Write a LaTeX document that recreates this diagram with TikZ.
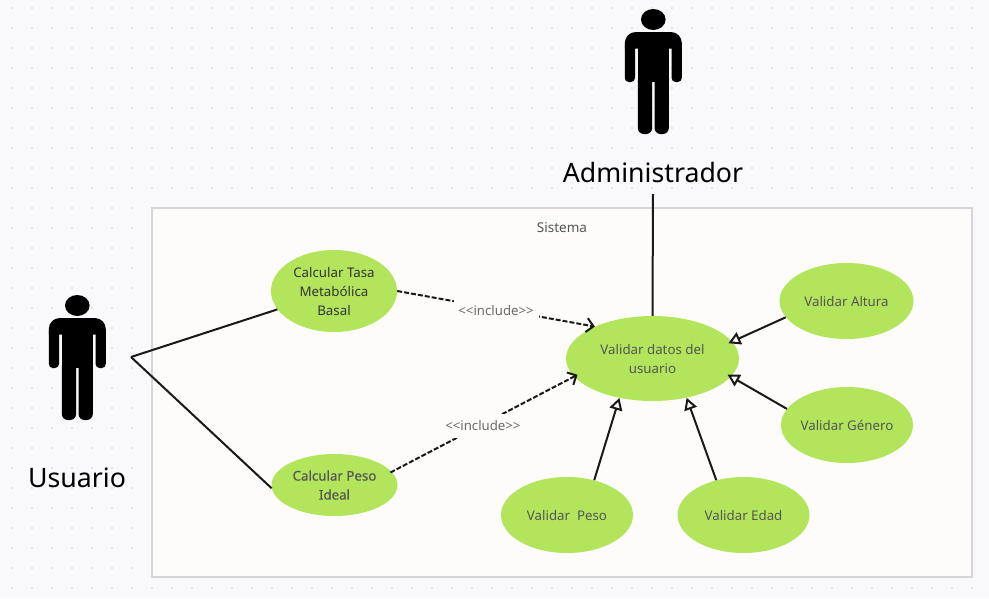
\documentclass[tikz,border=0pt]{standalone}
\usepackage{fontspec}
\setmainfont{Noto Sans}
\usetikzlibrary{arrows.meta,shapes.geometric}
\definecolor{pagebg}{HTML}{F9F9FB}
\definecolor{griddot}{HTML}{E4E4E8}
\definecolor{sysbg}{HTML}{FDFCFB}
\definecolor{sysline}{HTML}{D6D6D6}
\definecolor{usegreen}{HTML}{B2E55B}
\definecolor{labelgray}{HTML}{555555}
\definecolor{inclgray}{HTML}{6A6A6A}
\tikzset{
    usecase/.style={ellipse,fill=usegreen,inner sep=0pt,align=center,text=labelgray,font=\fontsize{13.3}{19}\selectfont,minimum width=132pt,minimum height=76pt,
        execute at begin node={\rule{0pt}{13.5pt}},execute at end node={\rule[-3.5pt]{0pt}{0pt}}},
    actorname/.style={text=black,font=\fontsize{26.7}{32}\selectfont,inner sep=0pt},
    assoc/.style={draw=black!90,line width=2pt},
    incl/.style={assoc,dashed,dash pattern=on 5pt off 2pt,-{Straight Barb[length=7pt,width=14pt,line width=2pt]}},
    generalize/.style={assoc,-{Triangle[open,fill=white,length=12pt,width=13pt,line width=2pt]}},
    inclabel/.style={fill=sysbg,text=inclgray,font=\fontsize{13.2}{16}\selectfont,inner sep=0pt,minimum width=85pt,minimum height=24pt,yshift=-1.5pt},
    actor/.pic={
        \fill (0,0) ellipse [x radius=12.3,y radius=10.5];
        \fill (-28.5,29) -- (-28.5,23.5) arc [start angle=180,end angle=270,radius=11] -- (17.5,12.5) arc [start angle=270,end angle=360,radius=11] -- (28.5,29) -- cycle;
        \fill (-15.5,25) rectangle (15.5,62.5);
        \foreach \s in {-1,1} {
            \begin{scope}[xscale=\s]
                \fill (18.3,25) [rounded corners=4] -- (18.3,62.5) -- (28.5,62.5) [sharp corners] -- (28.5,25) -- cycle;
                \fill (1.2,60) [rounded corners=6] -- (1.2,114.5) -- (15.5,114.5) [sharp corners] -- (15.5,60) -- cycle;
            \end{scope}
        }
    }
}
\begin{document}
\begin{tikzpicture}[x=1pt,y=-1pt]
    \useasboundingbox (0,0) rectangle (989,598);
    \fill [pagebg] (0,0) rectangle (989,598);
    \foreach \x in {0,...,48} {
        \foreach \y in {0,...,29} {
            \fill [griddot] (12+20*\x,8+20*\y) circle (1.4);
        }
    }
    \node [draw=sysline,fill=sysbg,line width=2pt,minimum width=820pt,minimum height=369pt,inner sep=0pt] (sistema) at (562,392.5) {};
    \node [text=labelgray,font=\fontsize{13.5}{16}\selectfont,inner sep=0pt] (sistemaname) at (562,228) {Sistema};

    \pic at (77.3,305.5) {actor};
    \pic at (653.3,19.5) {actor};
    \node [actorname] (usuario) at (77,478) {Usuario};
    \node [actorname] (administrador) at (653,172) {Administrador};
    \coordinate (usuariohand) at (131,357);
    \coordinate (adminfoot) at (653,194);

    \node [usecase,text depth=-2.5pt,minimum width=126pt,minimum height=82pt,text=black!80] (tasa) at (334,291) {Calcular Tasa\\Metabólica\\Basal};
    \node [usecase,text depth=-2.5pt,minimum width=126pt,minimum height=62pt,font=\fontsize{13.3}{19}\selectfont\addfontfeature{FakeBold=0.4}] (ideal) at (334.5,485) {Calcular Peso\\Ideal};
    \node [usecase,text depth=-0.5pt,minimum width=173pt,minimum height=85pt] (datos) at (652.5,358.5) {Validar datos del\\usuario};
    \node [usecase,minimum width=134pt] (altura) at (846.5,301) {Validar Altura};
    \node [usecase] (genero) at (847,425) {Validar Género};
    \node [usecase] (peso) at (567,515) {Validar~~Peso};
    \node [usecase] (edad) at (743.5,515) {Validar Edad};

    \draw [assoc] (usuariohand) -- (tasa.198);
    \draw [assoc] (usuariohand) -- (ideal.183);
    \draw [assoc] (adminfoot) -- (datos.north);

    \draw [incl] (tasa.0) -- node [inclabel,pos=0.5] (incluno) {<{}<include>{}>} (datos.151);
    \draw [incl,shorten >=-4pt,shorten <=-1.5pt] (ideal.13) -- node [inclabel,pos=0.5] (incldos) {<{}<include>{}>} (datos.193);

    \foreach \from/\a/\b/\r in {altura/195/12/4, genero/165/-13/4, peso/52/230/0, edad/128/-49/0} {
        \draw [generalize,shorten >=-\r pt] (\from.\a) -- (datos.\b);
    }
\end{tikzpicture}
\end{document}
